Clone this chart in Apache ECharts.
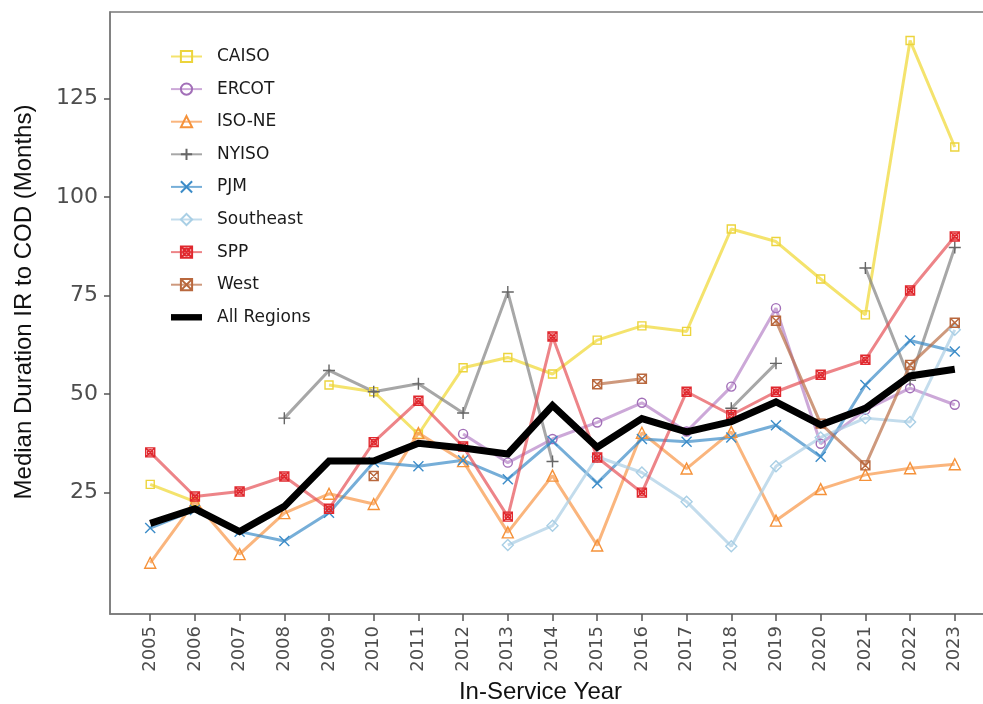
<!DOCTYPE html>
<html>
<head>
<meta charset="utf-8">
<script src="https://cdn.jsdelivr.net/npm/echarts@6/dist/echarts.min.js"></script>
<style>
  html, body { margin: 0; padding: 0; background: #fff; }
  #chart { width: 983px; height: 704px; }
</style>
</head>
<body>
<div id="chart"></div>
<script>
// In-service years on the x axis
const years = [2005, 2006, 2007, 2008, 2009, 2010, 2011, 2012, 2013, 2014,
               2015, 2016, 2017, 2018, 2019, 2020, 2021, 2022, 2023];
const yTicks = [25, 50, 75, 100, 125];

// Median duration from interconnection request to COD (months), by region
const caiso     = [27.1, 22.7, null, null, 52.3, 50.6, 39.8, 56.7, 59.3, 55.1, 63.7, 67.3, 65.9, 91.9, 88.7, 79.2, 70.1, 139.7, 112.7];
const ercot     = [null, null, null, null, null, null, null, 39.9, 32.6, 38.6, 42.8, 47.8, 40.5, 51.9, 71.8, 37.4, 46.0, 51.5, 47.3];
const isoNe     = [7.2, 22.7, 9.4, 19.8, 24.7, 22.1, 40.1, 33.0, 14.9, 29.3, 11.6, 40.2, 31.1, 40.4, 17.9, 25.9, 29.5, 31.2, 32.2];
const nyiso     = [null, null, null, 43.9, 56.0, 50.6, 52.6, 45.2, 75.9, 32.9, null, null, null, 46.4, 57.8, null, 82.0, 53.5, 87.2];
const pjm       = [16.0, 20.6, 15.1, 12.7, 19.9, 32.7, 31.7, 33.2, 28.4, 38.1, 27.4, 38.6, 37.9, 39.0, 42.1, 34.1, 52.3, 63.6, 60.8];
const southeast = [null, null, null, null, null, null, null, null, 11.7, 16.6, 34.1, 30.1, 22.7, 11.4, 31.7, 39.0, 43.9, 42.9, 66.3];
const spp       = [35.2, 24.0, 25.3, 29.1, 20.9, 37.8, 48.3, 36.7, 18.9, 64.6, 33.9, 25.0, 50.6, 44.7, 50.6, 54.9, 58.7, 76.3, 90.0];
const west      = [null, null, null, null, null, 29.2, null, null, null, null, 52.5, 53.9, null, null, 68.6, 42.5, 31.9, 57.4, 68.1];
const allRegions = [17.2, 20.9, 15.1, 21.5, 33.0, 33.0, 37.5, 36.3, 34.8, 47.1, 36.5, 43.8, 40.4, 43.0, 48.0, 42.2, 46.4, 54.6, 56.3];

// Marker outlines
const SYM_PLUS  = 'path://M5,0L5,10M0,5L10,5';
const SYM_CROSS = 'path://M0,0L10,10M10,0L0,10';
const SYM_BOXX  = 'path://M0,0L10,0L10,10L0,10ZM0,0L10,10M10,0L0,10';
const SYM_BOXXO = 'path://M0,0L10,0L10,10L0,10ZM0,0L10,10M10,0L0,10M8,5A3,3,0,1,1,2,5A3,3,0,1,1,8,5Z';
// Thick bar for the aggregate line in the legend (outer moves keep the box 31x14)
const ICON_BAR  = 'path://M0,0M31,14M0,3.8L31,3.8L31,10.2L0,10.2Z';

const regions = [
  { name: 'CAISO',     values: caiso,     line: 'rgba(240,218,60,0.75)',  mark: '#ecd43c', symbol: 'rect',     size: 8 },
  { name: 'ERCOT',     values: ercot,     line: 'rgba(170,110,190,0.6)',  mark: '#a26fb8', symbol: 'circle',   size: 9 },
  { name: 'ISO-NE',    values: isoNe,     line: 'rgba(248,150,70,0.7)',   mark: '#f5923a', symbol: 'triangle', size: 11 },
  { name: 'NYISO',     values: nyiso,     line: 'rgba(130,130,130,0.7)',  mark: '#666666', symbol: SYM_PLUS,   size: 12 },
  { name: 'PJM',       values: pjm,       line: 'rgba(60,140,200,0.7)',   mark: '#3c8cc8', symbol: SYM_CROSS,  size: 10 },
  { name: 'Southeast', values: southeast, line: 'rgba(170,205,228,0.7)',  mark: '#a9cfe5', symbol: 'diamond',  size: 11 },
  { name: 'SPP',       values: spp,       line: 'rgba(230,80,85,0.7)',    mark: '#e0282e', symbol: SYM_BOXXO,  size: 9 },
  { name: 'West',      values: west,      line: 'rgba(185,110,70,0.7)',   mark: '#b9683e', symbol: SYM_BOXX,   size: 9 }
];

function toPairs(values) {
  return years.map((y, i) => [y, values[i] === null ? '-' : values[i]]);
}

const series = regions.map(r => ({
  name: r.name,
  type: 'line',
  data: toPairs(r.values),
  connectNulls: false,
  symbol: r.symbol,
  symbolSize: r.size,
  showAllSymbol: true,
  lineStyle: { color: r.line, width: 3 },
  itemStyle: { color: 'rgba(255,255,255,0)', borderColor: r.mark, borderWidth: 1.4 },
  emphasis: { disabled: true },
  z: 2
}));

series.push({
  name: 'All Regions',
  type: 'line',
  data: toPairs(allRegions),
  symbol: 'none',
  lineStyle: { color: '#000', width: 7, join: 'miter' },
  itemStyle: { color: '#000' },
  emphasis: { disabled: true },
  z: 3
});

const legendData = regions.map(r => ({ name: r.name }));
legendData.push({ name: 'All Regions', icon: ICON_BAR, itemStyle: { color: '#000', borderWidth: 0 } });

const titleFont = { fontFamily: 'Liberation Sans, Arial, sans-serif', fontSize: 24, color: '#111' };

const chart = echarts.init(document.getElementById('chart'), null, { renderer: 'canvas' });

chart.setOption({
  animation: false,
  backgroundColor: '#fff',
  grid: {
    left: 110, top: 12, width: 885, height: 602,
    outerBoundsMode: 'none',
    containLabel: false,
    show: true, borderColor: '#7a7a7a', borderWidth: 1.5, backgroundColor: '#fff'
  },
  legend: {
    orient: 'vertical',
    left: 170, top: 48, padding: 0,
    itemWidth: 31, itemHeight: 14, itemGap: 15.6,
    data: legendData,
    textStyle: { fontFamily: 'DejaVu Sans', fontSize: 17, color: '#1a1a1a', padding: [0, 0, 0, 10] }
  },
  xAxis: {
    type: 'value',
    min: 2004.1, max: 2023.9,
    name: 'In-Service Year',
    nameLocation: 'middle',
    nameGap: 66,
    nameTextStyle: Object.assign({ padding: [0, 24, 0, 0] }, titleFont),
    axisLine: { show: true, onZero: false, lineStyle: { color: '#7a7a7a', width: 1.5 } },
    axisTick: { show: true, customValues: years, length: 7, lineStyle: { color: '#555', width: 1.5 } },
    axisLabel: {
      customValues: years, rotate: 90, margin: 12,
      fontFamily: 'DejaVu Sans', fontSize: 18, color: '#4d4d4d',
      formatter: v => String(v)
    },
    splitLine: { show: false }
  },
  yAxis: {
    type: 'value',
    min: -5.8, max: 146.95,
    name: 'Median Duration IR to COD (Months)',
    nameLocation: 'middle',
    nameGap: 74,
    nameTextStyle: Object.assign({ padding: [0, 0, 0, 22] }, titleFont),
    axisLine: { show: true, onZero: false, lineStyle: { color: '#7a7a7a', width: 1.5 } },
    axisTick: { show: true, customValues: yTicks, length: 6, lineStyle: { color: '#555', width: 1.5 } },
    axisLabel: {
      customValues: yTicks, margin: 12,
      fontFamily: 'DejaVu Sans', fontSize: 22, color: '#4d4d4d'
    },
    splitLine: { show: false }
  },
  series: series
});
</script>
</body>
</html>
